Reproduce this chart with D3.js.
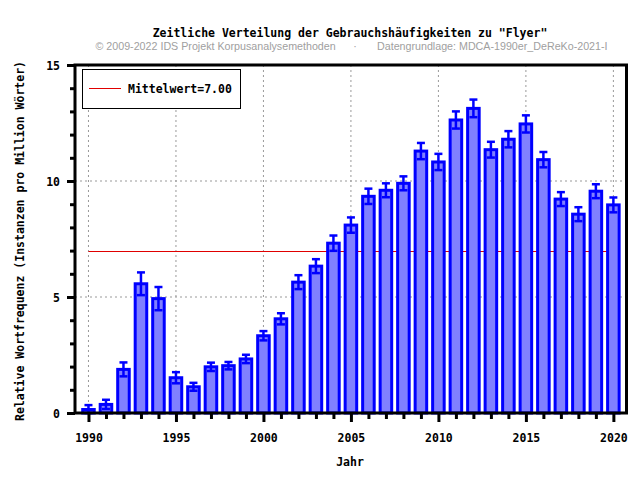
<!DOCTYPE html>
<html>
<head>
<meta charset="utf-8">
<script src="https://cdn.jsdelivr.net/npm/d3@7"></script>
<style>
  html, body { margin: 0; padding: 0; background: #fff; }
  svg { display: block; }
  .mono { font-family: "DejaVu Sans Mono", "Liberation Mono", monospace; font-weight: bold; font-size: 11.5px; fill: #000; }
</style>
</head>
<body>
<svg id="chart" width="640" height="480"></svg>
<script>
const years = [1990,1991,1992,1993,1994,1995,1996,1997,1998,1999,2000,2001,2002,2003,2004,2005,2006,2007,2008,2009,2010,2011,2012,2013,2014,2015,2016,2017,2018,2019,2020];
const values = [0.15,0.37,1.88,5.57,4.93,1.52,1.13,1.99,2.04,2.33,3.33,4.06,5.64,6.33,7.32,8.10,9.34,9.60,9.90,11.29,10.82,12.63,13.13,11.35,11.80,12.46,10.92,9.22,8.57,9.56,8.97];
const errors = [0.19,0.2,0.3,0.49,0.5,0.24,0.17,0.18,0.16,0.18,0.2,0.24,0.3,0.3,0.33,0.33,0.33,0.3,0.3,0.35,0.35,0.37,0.38,0.34,0.35,0.37,0.33,0.3,0.3,0.3,0.32];
const meanValue = 7.00;
const yMajorTicks = [0, 5, 10, 15];
const yMinorTicks = [1,2,3,4,6,7,8,9,11,12,13,14];
const xMajorTicks = [1990, 1995, 2000, 2005, 2010, 2015, 2020];
const titleText = 'Zeitliche Verteilung der Gebrauchshäufigkeiten zu "Flyer"';
const creditLeft = '© 2009-2022 IDS Projekt Korpusanalysemethoden';
const creditRight = 'Datengrundlage: MDCA-1990er_DeReKo-2021-I';
const xTitle = 'Jahr';
const yTitle = 'Relative Wortfrequenz (Instanzen pro Million Wörter)';
const legendLabel = 'Mittelwert=7.00';

const svg = d3.select('#chart');
const L = 75, R = 626.5, T = 65, B = 413;

const x = d3.scaleLinear().domain([1989.23, 2020.75]).range([L, R]);
const y = d3.scaleLinear().domain([0, 15]).range([B, T]);

// Grid
const grid = svg.append('g');
grid.selectAll('line.gx').data(xMajorTicks).enter().append('line')
  .attr('x1', d => x(d)).attr('x2', d => x(d)).attr('y1', T).attr('y2', B)
  .attr('stroke', '#999').attr('stroke-width', 1).attr('stroke-dasharray', '2,3');
grid.selectAll('line.gy').data([5, 10]).enter().append('line')
  .attr('x1', L).attr('x2', R).attr('y1', d => y(d)).attr('y2', d => y(d))
  .attr('stroke', '#999').attr('stroke-width', 1).attr('stroke-dasharray', '2,3');

// Mean line
svg.append('line')
  .attr('x1', x(years[0])).attr('x2', x(years[years.length - 1]))
  .attr('y1', Math.round(y(meanValue)) + 0.5).attr('y2', Math.round(y(meanValue)) + 0.5)
  .attr('stroke', '#e00000').attr('stroke-width', 1);

// Bars
const bw = x(1990.33) - x(1990);
svg.append('g').selectAll('rect').data(years).enter().append('rect')
  .attr('x', d => x(d) - bw)
  .attr('width', 2 * bw)
  .attr('y', (d, i) => y(values[i]))
  .attr('height', (d, i) => y(0) - y(values[i]))
  .attr('fill', '#8080ff').attr('stroke', '#0000ff').attr('stroke-width', 3);

// Error bars
const eb = svg.append('g').attr('stroke', '#0000ff').attr('stroke-width', 2.5);
years.forEach((yr, i) => {
  const cx = x(yr);
  const hi = y(values[i] + errors[i]);
  const lo = y(Math.max(0, values[i] - errors[i]));
  eb.append('line').attr('x1', cx).attr('x2', cx).attr('y1', hi).attr('y2', lo);
  eb.append('line').attr('x1', cx - 4).attr('x2', cx + 4).attr('y1', hi).attr('y2', hi);
  eb.append('line').attr('x1', cx - 4).attr('x2', cx + 4).attr('y1', lo).attr('y2', lo);
});

// Axes ticks
const yAxisMajor = d3.axisLeft(y).tickValues(yMajorTicks).tickSize(8).tickPadding(7).tickFormat(d3.format('d'));
const gy = svg.append('g').attr('transform', `translate(${L},0)`).call(yAxisMajor);
gy.select('.domain').remove();
gy.selectAll('line').attr('stroke', '#000').attr('stroke-width', 3);
gy.selectAll('text').attr('class', 'mono').attr('font-family', null).attr('font-size', null).attr('dy', '0.35em');

const gyMinor = svg.append('g').attr('transform', `translate(${L},0)`)
  .call(d3.axisLeft(y).tickValues(yMinorTicks).tickSize(5).tickFormat(''));
gyMinor.select('.domain').remove();
gyMinor.selectAll('line').attr('stroke', '#000').attr('stroke-width', 3);

const gx = svg.append('g').attr('transform', `translate(0,${B})`)
  .call(d3.axisBottom(x).tickValues(xMajorTicks).tickSize(9).tickPadding(12).tickFormat(d3.format('d')));
gx.select('.domain').remove();
gx.selectAll('line').attr('stroke', '#000').attr('stroke-width', 3);
gx.selectAll('text').attr('class', 'mono').attr('font-family', null).attr('font-size', null);

const gxMinor = svg.append('g').attr('transform', `translate(0,${B})`)
  .call(d3.axisBottom(x).tickValues(years.filter(d => !xMajorTicks.includes(d))).tickSize(6).tickFormat(''));
gxMinor.select('.domain').remove();
gxMinor.selectAll('line').attr('stroke', '#000').attr('stroke-width', 3);

// Frame
svg.append('rect').attr('x', L).attr('y', T).attr('width', R - L).attr('height', B - T)
  .attr('fill', 'none').attr('stroke', '#000').attr('stroke-width', 3);

// Legend
svg.append('rect').attr('x', 82.5).attr('y', 69.5).attr('width', 158).attr('height', 39)
  .attr('fill', '#fff').attr('stroke', '#000').attr('stroke-width', 1);
svg.append('line').attr('x1', 89).attr('x2', 121).attr('y1', 88.5).attr('y2', 88.5)
  .attr('stroke', '#e00000').attr('stroke-width', 1);
svg.append('text').attr('class', 'mono').attr('x', 128).attr('y', 92.5).text(legendLabel);

// Titles
svg.append('text').attr('class', 'mono').attr('x', 350).attr('y', 37).attr('text-anchor', 'middle').text(titleText);
const creditFont = 'Liberation Sans, Arial, sans-serif';
svg.append('text').attr('x', 95.5).attr('y', 50)
  .attr('font-family', creditFont).attr('font-size', 10.7).attr('fill', '#a0a0a0')
  .text(creditLeft);
svg.append('text').attr('x', 355).attr('y', 50).attr('text-anchor', 'middle')
  .attr('font-family', creditFont).attr('font-size', 10.7).attr('fill', '#a0a0a0')
  .text('·');
svg.append('text').attr('x', 377).attr('y', 50)
  .attr('font-family', creditFont).attr('font-size', 10.7).attr('fill', '#a0a0a0')
  .text(creditRight);
svg.append('text').attr('class', 'mono').attr('x', 350).attr('y', 466).attr('text-anchor', 'middle').text(xTitle);
svg.append('text').attr('class', 'mono').attr('transform', 'translate(24,241) rotate(-90)')
  .attr('text-anchor', 'middle').text(yTitle);
</script>
</body>
</html>
